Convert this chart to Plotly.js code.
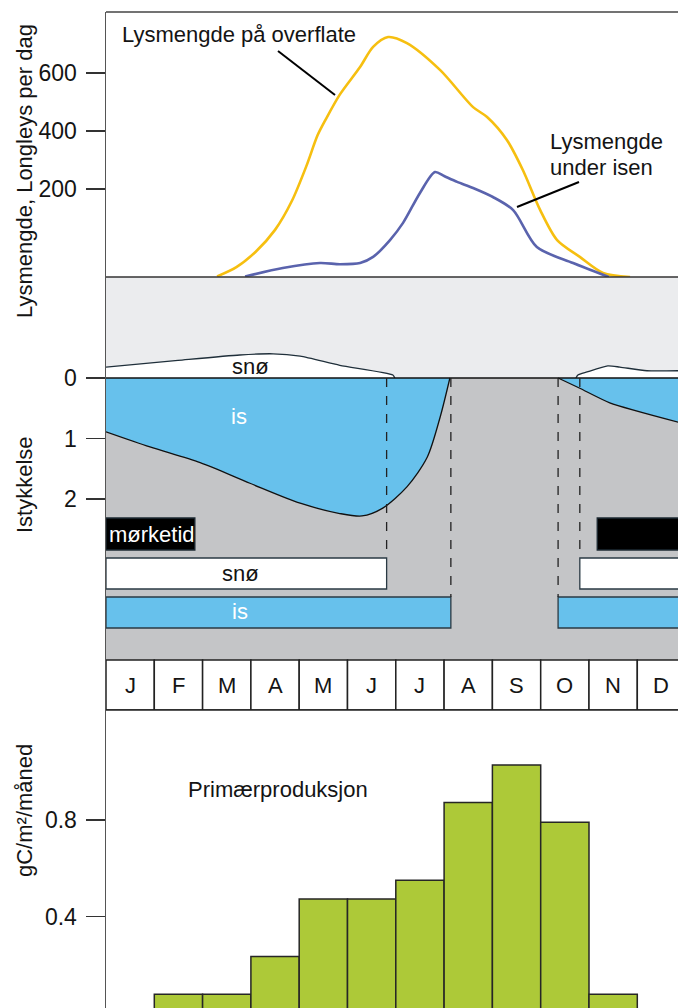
<!DOCTYPE html>
<html><head><meta charset="utf-8">
<script src="https://cdn.plot.ly/plotly-3.0.1.min.js"></script>
<style>html,body{margin:0;padding:0;background:#fff}</style>
</head><body><div id="chart" style="width:678px;height:1008px"></div>
<script>
// ---------- DATA ----------
const months = ['J','F','M','A','M','J','J','A','S','O','N','D'];
// x = month position (0 = start of January), y = Langleys per day (axis units)
const surfaceLightX = [2.30,2.70,3.10,3.50,3.85,4.15,4.38,4.55,4.84,5.26,5.53,5.84,6.23,6.92,7.60,7.89,8.30,8.63,8.99,9.34,9.81,10.29,10.85];
const surfaceLightY = [-100,-68,-15,60,160,280,385,440,525,620,689,723,702,609,482,448,369,266,128,25,-33,-88,-102];
const underIceLightX = [2.88,3.66,4.43,4.84,5.26,5.53,5.88,6.15,6.50,6.81,7.00,7.27,7.60,8.01,8.43,8.92,9.67,10.41];
const underIceLightY = [-100,-71,-54,-58,-54,-33,25,84,187,259,245,225,204,173,128,1,-54,-102];
// ice thickness (m); snow drawn as negative values above the ice surface
const snowSpringX = [0,1.49,2.77,3.46,4.02,4.84,5.94,5.98];
const snowSpringY = [-0.18,-0.29,-0.38,-0.40,-0.36,-0.21,-0.05,0];
const iceSpringX = [0,0.91,1.95,2.98,4.02,4.84,5.30,5.73,6.23,6.65,6.92,7.12];
const iceSpringY = [0.89,1.14,1.40,1.74,2.07,2.24,2.28,2.15,1.80,1.31,0.64,0];
const snowAutumnX = [9.73,9.77,9.96,10.39,10.64,11.20,11.85];
const snowAutumnY = [0,-0.05,-0.10,-0.20,-0.18,-0.12,-0.12];
const iceAutumnX = [9.36,9.81,10.43,11.85];
const iceAutumnY = [0,0.17,0.41,0.73];
// periods (month positions)
const darkPeriods = [[0,1.84],[10.17,12]];
const snowPeriods = [[0,5.81],[9.81,12]];
const icePeriods  = [[0,7.14],[9.36,12]];
// primary production, gC/m2/month
const production = [0,0.079,0.079,0.235,0.473,0.473,0.551,0.872,1.027,0.791,0.079,0];

// ---------- LAYOUT HELPERS ----------
const W=678,H=1008,L=106,T=12,PW=W-L,PH=H-T;
const X = p => (p-L)/PW;          // pixel x -> paper
const Y = p => (H-p)/PH;          // pixel y -> paper
const V = p => (p-378)/60.5;      // pixel y -> ice axis value
const XMAX = PW/48.3;
const FONT = 'Liberation Sans, Arial, sans-serif';
const TXT = '#141414';

const traces = [
  {x:surfaceLightX,y:surfaceLightY,type:'scatter',mode:'lines',yaxis:'y',
   line:{color:'#f6bf10',width:2.6,shape:'spline',smoothing:0.8},hoverinfo:'skip'},
  {x:underIceLightX,y:underIceLightY,type:'scatter',mode:'lines',yaxis:'y',
   line:{color:'#5a63ad',width:2.6,shape:'spline',smoothing:0.8},hoverinfo:'skip'},
  {x:snowSpringX,y:snowSpringY,type:'scatter',mode:'lines',yaxis:'y2',fill:'tozeroy',fillcolor:'#ffffff',
   line:{color:'#1f2f3a',width:1.3,shape:'spline',smoothing:0.6},hoverinfo:'skip'},
  {x:snowAutumnX,y:snowAutumnY,type:'scatter',mode:'lines',yaxis:'y2',fill:'tozeroy',fillcolor:'#ffffff',
   line:{color:'#1f2f3a',width:1.3,shape:'spline',smoothing:0.6},hoverinfo:'skip'},
  {x:iceSpringX,y:iceSpringY,type:'scatter',mode:'lines',yaxis:'y2',fill:'tozeroy',fillcolor:'#67c1ec',
   line:{color:'#111',width:1.3,shape:'spline',smoothing:0.8},hoverinfo:'skip'},
  {x:iceAutumnX,y:iceAutumnY,type:'scatter',mode:'lines',yaxis:'y2',fill:'tozeroy',fillcolor:'#67c1ec',
   line:{color:'#111',width:1.3,shape:'spline',smoothing:0.6},hoverinfo:'skip'},
  {x:months.map((m,i)=>i+0.5),y:production,type:'bar',yaxis:'y3',width:1,
   marker:{color:'#adc938',line:{color:'#262626',width:1.5}},hoverinfo:'skip'}
];

const shapes = [];
shapes.push({type:'rect',xref:'x',yref:'y2',x0:0,x1:12,y0:V(277),y1:0,fillcolor:'#ebecee',line:{width:0},layer:'below'});
shapes.push({type:'rect',xref:'x',yref:'y2',x0:0,x1:12,y0:0,y1:V(660),fillcolor:'#c4c5c7',line:{width:0},layer:'below'});
shapes.push({type:'line',xref:'x',yref:'y2',x0:0,x1:12,y0:0,y1:0,line:{color:'#111',width:1.6}});
const barRows = [
  {p:darkPeriods,top:518,bot:550,fill:'#000000',line:'#1c2a33'},
  {p:snowPeriods,top:558,bot:589,fill:'#ffffff',line:'#2a3a44'},
  {p:icePeriods, top:597,bot:628,fill:'#67c1ec',line:'#2a3a44'}
];
barRows.forEach(r=>r.p.forEach(([a,b])=>{
  shapes.push({type:'rect',xref:'x',yref:'y2',x0:a,x1:b,y0:V(r.top),y1:V(r.bot),fillcolor:r.fill,line:{color:r.line,width:1.3}});
}));
[[snowPeriods,558],[icePeriods,597]].forEach(([per,top])=>{
  per.forEach(([a,b])=>{
    [a,b].forEach(v=>{ if(v>0 && v<XMAX){
      shapes.push({type:'line',xref:'x',yref:'y2',x0:v,x1:v,y0:0,y1:V(top),line:{color:'#222',width:1.3,dash:'dash'}});
    }});
  });
});
months.forEach((m,i)=>{
  shapes.push({type:'rect',xref:'x',yref:'y2',x0:i,x1:i+1,y0:V(660),y1:V(710),fillcolor:'#ffffff',line:{color:'#222',width:1.5}});
});
shapes.push({type:'line',xref:'paper',yref:'paper',x0:0,x1:1,y0:1,y1:1,line:{color:'#444',width:1.5}});
shapes.push({type:'line',xref:'paper',yref:'paper',x0:0,x1:1,y0:Y(277),y1:Y(277),line:{color:'#333',width:1.5}});
shapes.push({type:'line',xref:'paper',yref:'paper',x0:0,x1:1,y0:Y(710),y1:Y(710),line:{color:'#222',width:1.5}});
shapes.push({type:'line',xref:'paper',yref:'paper',x0:X(278),y0:Y(51),x1:X(335),y1:Y(95),line:{color:'#000',width:2}});
shapes.push({type:'line',xref:'paper',yref:'paper',x0:X(579),y0:Y(182),x1:X(517),y1:Y(207),line:{color:'#000',width:2}});

const ann = (text,px,py,opt={}) => Object.assign({text,xref:'paper',yref:'paper',x:X(px),y:Y(py),
  showarrow:false,xanchor:'center',yanchor:'middle',font:{family:FONT,size:22,color:TXT}},opt);

const annotations = [
  ann('Lysmengde på overflate',120,35,{xanchor:'left'}),
  ann('Lysmengde',548,142,{xanchor:'left'}),
  ann('under isen',548,168,{xanchor:'left'}),
  ann('snø',250,366),
  ann('is',239,417,{font:{family:FONT,size:22,color:'#ffffff'}}),
  ann('mørketid',107,534,{xanchor:'left',font:{family:FONT,size:22,color:'#ffffff'}}),
  ann('snø',240,573),
  ann('is',240,612,{font:{family:FONT,size:22,color:'#ffffff'}}),
  ann('Primærproduksjon',278,789),
  ann('Lysmengde, Longleys per dag',24,171,{textangle:-90}),
  ann('Istykkelse',24,485,{textangle:-90}),
  ann('gC/m²/måned',24,811,{textangle:-90})
];
months.forEach((m,i)=>{
  annotations.push({text:m,xref:'x',yref:'y2',x:i+0.5,y:V(685),showarrow:false,xanchor:'center',yanchor:'middle',
    font:{family:FONT,size:22,color:TXT}});
});

const yAxis = extra => Object.assign({anchor:'x',showgrid:false,zeroline:false,showline:true,linecolor:'#555',linewidth:1.5,
  ticks:'outside',ticklen:19,tickwidth:1.5,tickcolor:'#333',fixedrange:true,ticklabelstandoff:4,
  tickfont:{family:FONT,size:23,color:TXT}}, extra);

const layout = {
  width:W,height:H,margin:{l:L,r:0,t:T,b:0,pad:0},
  font:{family:FONT,size:22,color:TXT},
  paper_bgcolor:'#ffffff',plot_bgcolor:'#ffffff',showlegend:false,
  xaxis:{range:[0,XMAX],visible:false,fixedrange:true,anchor:'y3'},
  yaxis:yAxis({domain:[Y(277),1],range:[-102,809],tickvals:[200,400,600]}),
  yaxis2:yAxis({domain:[Y(710),Y(277)],range:[V(710),V(277)],tickvals:[0,1,2]}),
  yaxis3:yAxis({domain:[0,Y(710)],range:[0.022,1.255],tickvals:[0.4,0.8],ticktext:['0.4','0.8']}),
  shapes,annotations,bargap:0
};

Plotly.newPlot('chart',traces,layout,{staticPlot:true,displayModeBar:false});
</script>
</body></html>
